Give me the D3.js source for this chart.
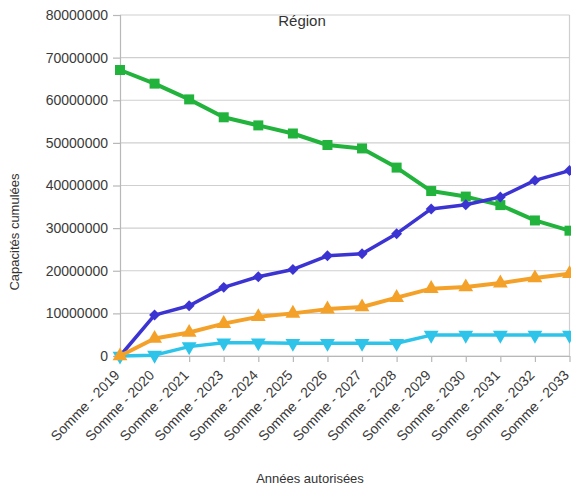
<!DOCTYPE html>
<html>
<head>
<meta charset="utf-8">
<script src="https://cdn.jsdelivr.net/npm/d3@7"></script>
<style>
    body { margin: 0; background: #ffffff; }
    svg { display: block; font-family: "Liberation Sans", Arial, sans-serif; }
</style>
</head>
<body>
<svg id="chart" width="571" height="491"></svg>
<script>
// categories on the x axis (2022 is missing in the source data)
var categories = ["Somme - 2019", "Somme - 2020", "Somme - 2021", "Somme - 2023", "Somme - 2024",
    "Somme - 2025", "Somme - 2026", "Somme - 2027", "Somme - 2028", "Somme - 2029",
    "Somme - 2030", "Somme - 2031", "Somme - 2032", "Somme - 2033"];

// series values
var greenValues = [67100000, 63900000, 60200000, 56000000, 54100000, 52200000, 49500000,
    48700000, 44200000, 38700000, 37400000, 35400000, 31800000, 29400000];
var blueValues = [0, 9600000, 11800000, 16100000, 18600000, 20300000, 23500000,
    24000000, 28700000, 34500000, 35500000, 37300000, 41200000, 43500000];
var orangeValues = [0, 4100000, 5500000, 7600000, 9200000, 10000000, 11000000,
    11500000, 13700000, 15800000, 16200000, 17100000, 18300000, 19300000];
var cyanValues = [0, 200000, 2200000, 3100000, 3100000, 3000000, 3000000,
    3000000, 3000000, 4900000, 4900000, 4900000, 4900000, 4900000];

var yTicks = [0, 10000000, 20000000, 30000000, 40000000, 50000000, 60000000, 70000000, 80000000];

var chartTitle = "Région";
var xTitle = "Années autorisées";
var yTitle = "Capacités cumulées";

(function() {
    var svg = d3.select('#chart');
    var dim = { left: 120, right: 569.5, top: 15, bottom: 356 };

    var x = d3.scalePoint().domain(categories).range([dim.left, dim.right]);
    var y = d3.scaleLinear().domain([0, 80000000]).range([dim.bottom, dim.top]);

    // grid lines
    svg.append('g').attr('class', 'grid')
        .selectAll('line').data(yTicks).enter()
        .append('line')
        .attr('x1', dim.left).attr('x2', dim.right)
        .attr('y1', function(d) { return y(d); })
        .attr('y2', function(d) { return y(d); })
        .attr('stroke', '#cfcfcf')
        .attr('stroke-width', 1.2);

    // right border of plot area
    svg.append('line')
        .attr('x1', dim.right).attr('x2', dim.right)
        .attr('y1', dim.top).attr('y2', dim.bottom)
        .attr('stroke', '#cfcfcf').attr('stroke-width', 1.2);

    // y axis
    var yAxis = svg.append('g')
        .attr('transform', 'translate(' + dim.left + ',0)')
        .call(d3.axisLeft(y).tickValues(yTicks).tickSize(7).tickPadding(5).tickFormat(d3.format('d')));
    yAxis.selectAll('.domain').attr('stroke', '#b8b8b8').attr('stroke-width', 1.2);
    yAxis.selectAll('.tick line').attr('stroke', '#b8b8b8').attr('stroke-width', 1.2);
    yAxis.selectAll('.tick text')
        .attr('font-size', '14px')
        .attr('font-family', '"Liberation Sans", Arial, sans-serif')
        .attr('fill', '#3a3a3a');

    // x axis
    var xAxis = svg.append('g')
        .attr('transform', 'translate(0,' + dim.bottom + ')')
        .call(d3.axisBottom(x).tickSize(6).tickSizeOuter(0));
    xAxis.selectAll('.domain').attr('stroke', '#b8b8b8').attr('stroke-width', 1.2);
    xAxis.selectAll('.tick line').attr('stroke', '#b8b8b8').attr('stroke-width', 1.2);
    xAxis.selectAll('.tick text')
        .attr('font-size', '14px')
        .attr('font-family', '"Liberation Sans", Arial, sans-serif')
        .attr('fill', '#3a3a3a')
        .attr('text-anchor', 'end')
        .attr('x', 0).attr('y', 0).attr('dy', 0)
        .attr('transform', 'translate(0,20) rotate(-46)');

    var series = [
        { values: greenValues, color: '#22b33c', symbol: d3.symbolSquare, size: 100, width: 4, rot: 0 },
        { values: blueValues, color: '#3b33d2', symbol: d3.symbolSquare, size: 60, width: 3.5, rot: 45 },
        { values: cyanValues, color: '#2ec4e9', symbol: d3.symbolTriangle, size: 95, width: 3.5, rot: 180 },
        { values: orangeValues, color: '#f4a12a', symbol: d3.symbolTriangle, size: 95, width: 4, rot: 0 }
    ];

    var line = d3.line()
        .x(function(d, i) { return x(categories[i]); })
        .y(function(d) { return y(d); });

    series.forEach(function(s) {
        var g = svg.append('g');
        g.append('path')
            .datum(s.values)
            .attr('d', line)
            .attr('fill', 'none')
            .attr('stroke', s.color)
            .attr('stroke-width', s.width)
            .attr('stroke-linejoin', 'round');
        g.selectAll('.marker').data(s.values).enter()
            .append('path')
            .attr('class', 'marker')
            .attr('d', d3.symbol().type(s.symbol).size(s.size))
            .attr('transform', function(d, i) {
                return 'translate(' + x(categories[i]) + ',' + y(d) + ') rotate(' + s.rot + ')';
            })
            .attr('fill', s.color);
    });

    // titles
    svg.append('text')
        .attr('x', 302).attr('y', 26)
        .attr('text-anchor', 'middle')
        .attr('font-size', '15px')
        .attr('fill', '#333')
        .text(chartTitle);

    svg.append('text')
        .attr('x', 310).attr('y', 483)
        .attr('text-anchor', 'middle')
        .attr('font-size', '13px')
        .attr('fill', '#333')
        .text(xTitle);

    svg.append('text')
        .attr('transform', 'translate(19,232) rotate(-90)')
        .attr('text-anchor', 'middle')
        .attr('font-size', '13px')
        .attr('fill', '#333')
        .text(yTitle);
})();
</script>
</body>
</html>
